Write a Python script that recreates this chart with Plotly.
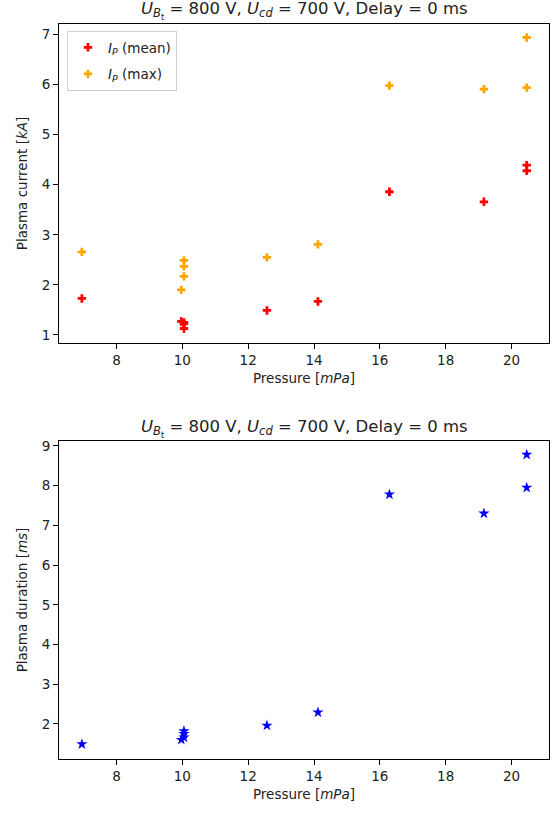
import plotly.graph_objects as go
from plotly.subplots import make_subplots

# Pressure of each shot [mPa]
pressure = [6.95, 9.97, 10.05, 10.05, 10.05, 12.57, 14.12, 16.29, 19.16, 20.46, 20.46]
# Plasma current [kA]
ip_mean = [1.73, 1.27, 1.25, 1.22, 1.13, 1.49, 1.67, 3.86, 3.66, 4.39, 4.28]
ip_max = [2.66, 1.90, 2.17, 2.37, 2.49, 2.55, 2.81, 5.98, 5.91, 6.94, 5.94]
# Plasma duration [ms]
duration = [1.49, 1.60, 1.66, 1.75, 1.82, 1.96, 2.29, 7.78, 7.30, 8.78, 7.95]

x_ticks = [8, 10, 12, 14, 16, 18, 20]

title_txt = ("<i>U</i><sub><i>B</i><sub>t</sub></sub> = 800 V, "
             "<i>U</i><sub><i>cd</i></sub> = 700 V, Delay = 0 ms")

W, H = 557, 814
ml, mr, mt, mb = 59, 8, 24, 55
ph = H - mt - mb
TXT = "#222"


def py(pix):
    return (H - mb - pix) / ph


fig = make_subplots(rows=2, cols=1)

fig.add_trace(go.Scatter(
    x=pressure, y=ip_mean, mode="markers", legendgroup="mean",
    name="<i>I</i><sub><i>P</i></sub> (mean)",
    marker=dict(symbol="cross", color="red", size=7),
), row=1, col=1)
fig.add_trace(go.Scatter(
    x=pressure, y=ip_max, mode="markers", legendgroup="max",
    name="<i>I</i><sub><i>P</i></sub> (max)",
    marker=dict(symbol="cross", color="orange", size=7),
), row=1, col=1)
fig.add_trace(go.Scatter(
    x=pressure, y=duration, mode="markers", showlegend=False,
    marker=dict(symbol="star", color="blue", size=8.5),
), row=2, col=1)

axis_common = dict(
    showline=True, linecolor="black", linewidth=1, mirror=True,
    ticks="outside", ticklen=5, tickcolor="black", showgrid=False,
    zeroline=False, tickfont=dict(size=13.5, color=TXT),
)

xr = [6.255, 21.137]
fig.update_xaxes(range=xr, tickvals=x_ticks, **axis_common)
fig.update_xaxes(title=dict(text="Pressure [<i>mPa</i>]", standoff=6,
                            font=dict(size=13.5, color=TXT)))
fig.update_yaxes(**axis_common)

fig.update_layout(
    xaxis=dict(domain=[0, 1]),
    yaxis=dict(domain=[py(343), 1.0], range=[0.84, 7.21], dtick=1,
               title=dict(text="Plasma current [<i>kA</i>]", standoff=10,
                          font=dict(size=13.5, color=TXT))),
    xaxis2=dict(domain=[0, 1]),
    yaxis2=dict(domain=[0, py(441)], range=[1.116, 9.124], dtick=1,
                title=dict(text="Plasma duration [<i>ms</i>]", standoff=10,
                           font=dict(size=13.5, color=TXT))),
    width=W, height=H,
    margin=dict(l=ml, r=mr, t=mt, b=mb),
    paper_bgcolor="white", plot_bgcolor="white",
    font=dict(family="DejaVu Sans", color=TXT),
    legend=dict(x=(67 - ml) / (W - ml - mr), y=py(31), xanchor="left",
                yanchor="top", bordercolor="#d0d0d0", borderwidth=1,
                bgcolor="rgba(255,255,255,0.8)", font=dict(size=13.5),
                tracegroupgap=6, itemwidth=30, entrywidth=118),
    annotations=[
        dict(text=title_txt, x=0.5, y=py(10), xref="paper", yref="paper",
             showarrow=False, yanchor="middle", font=dict(size=16.5, color=TXT)),
        dict(text=title_txt, x=0.5, y=py(428), xref="paper", yref="paper",
             showarrow=False, yanchor="middle", font=dict(size=16.5, color=TXT)),
    ],
)

fig.write_html("out.html")
